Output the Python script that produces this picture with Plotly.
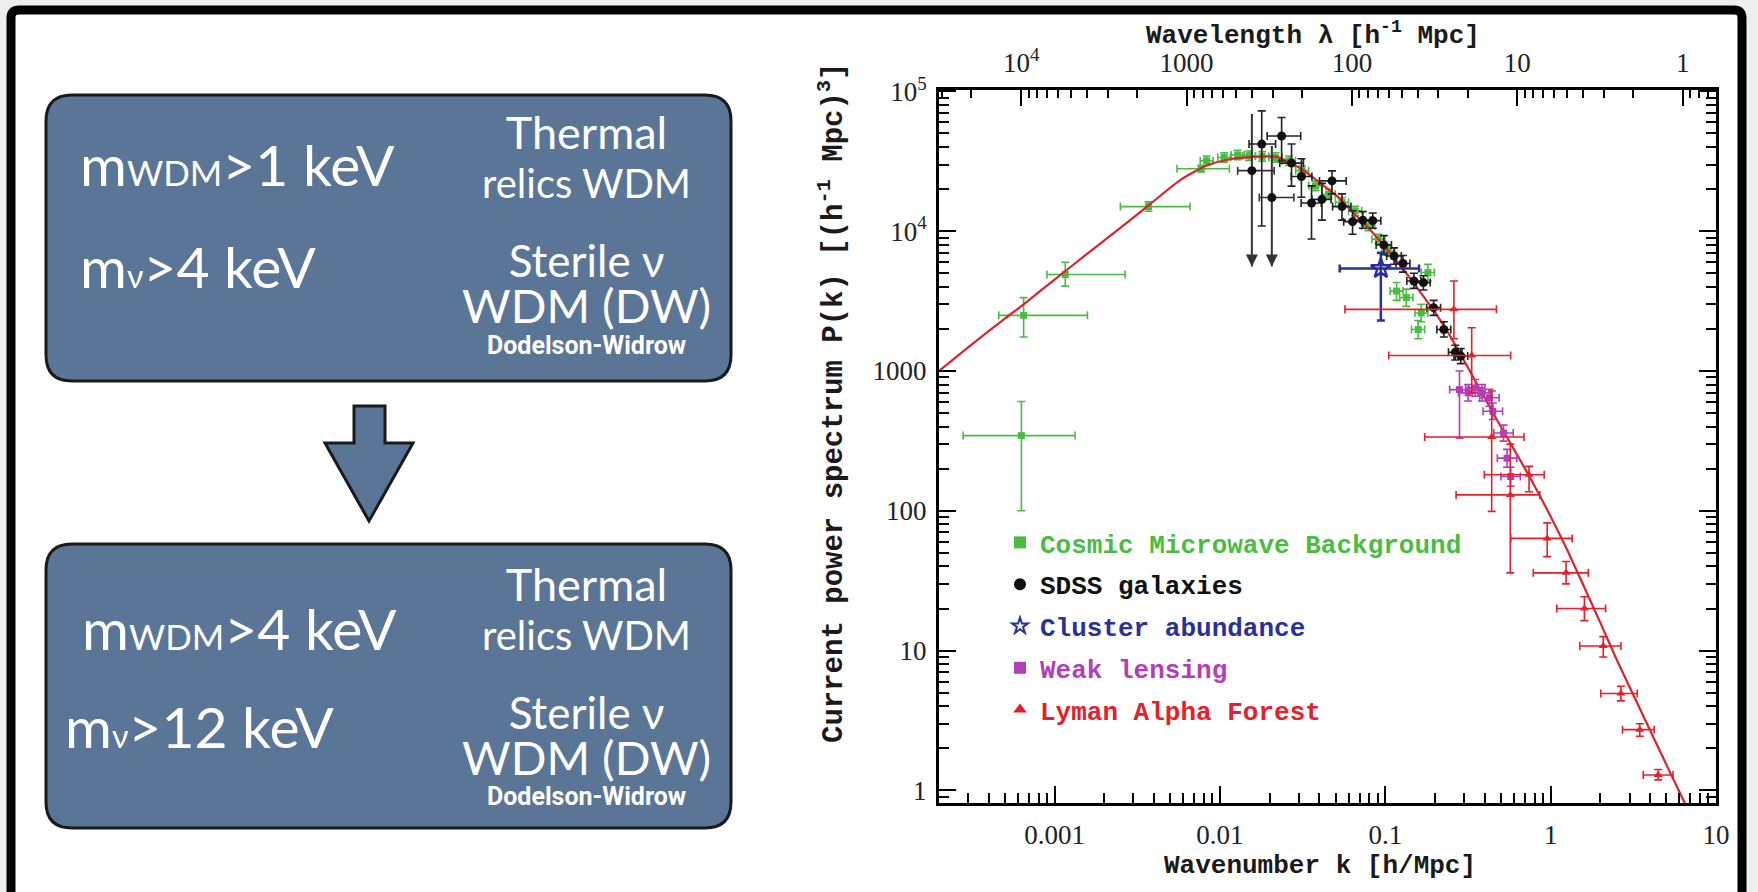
import math
import plotly.graph_objects as go

W, H = 1758, 892

# ---------------- data ----------------
# theory curve (red line)
curve_k = [2.0e-4, 3.16e-4, 5.0e-4, 6.5e-4, 1.0e-3, 1.58e-3, 2.51e-3, 3.8e-3, 5.75e-3, 8.3e-3,
           0.0115, 0.0158, 0.0224, 0.0316, 0.0398, 0.0501, 0.0631, 0.0794, 0.1, 0.126,
           0.158, 0.2, 0.251, 0.316, 0.398, 0.501, 0.631, 0.794, 1.0, 1.26,
           1.58, 2.0, 2.51, 3.16, 3.98, 5.01, 6.65]
curve_P = [1000, 1550, 2370, 3000, 4510, 6920, 10600, 15700, 23200, 29500,
           32700, 34000, 33900, 27500, 22400, 18200, 13800, 10500, 7670, 5500,
           3850, 2630, 1720, 1060, 646, 398, 248, 153, 91.2, 52.5,
           29.2, 15.8, 8.61, 4.84, 2.72, 1.53, 0.76]

# Cosmic Microwave Background (green)
cmb_k = [6.3e-4, 6.5e-4, 1.16e-3, 3.7e-3, 7.7e-3, 0.0083, 0.0106, 0.0128, 0.015, 0.018,
         0.0217, 0.0261, 0.0314, 0.0378, 0.0455, 0.0547, 0.0658, 0.079, 0.0908, 0.104,
         0.117, 0.134, 0.158, 0.181, 0.165]
cmb_k_lo = [2.8e-4, 4.6e-4, 9.0e-4, 2.5e-3, 5.5e-3, 0.0076, 0.0097, 0.0117, 0.0137, 0.0164,
            0.0198, 0.0238, 0.0287, 0.0345, 0.0415, 0.050, 0.060, 0.072, 0.083, 0.095,
            0.107, 0.122, 0.144, 0.165, 0.151]
cmb_k_hi = [1.33e-3, 1.58e-3, 2.67e-3, 6.6e-3, 0.0114, 0.0091, 0.0116, 0.014, 0.0164, 0.0197,
            0.0238, 0.0286, 0.0344, 0.0414, 0.0498, 0.060, 0.072, 0.0865, 0.0995, 0.114,
            0.128, 0.147, 0.173, 0.198, 0.181]
cmb_P = [345, 2500, 4900, 15000, 28000, 31900, 33700, 35100, 34700, 34300,
         33700, 31900, 27100, 21100, 18400, 16100, 14000, 10900, 8770, 7230,
         3730, 3350, 1980, 5060, 2600]
cmb_P_lo = [100, 1750, 4050, 13900, 26500, 29500, 31200, 32500, 32100, 31700,
            31200, 29500, 25000, 19500, 17000, 14900, 12900, 10100, 8100, 6700,
            3200, 2900, 1700, 4400, 2250]
cmb_P_hi = [605, 3350, 6000, 16200, 29600, 34500, 36400, 37900, 37500, 37100,
            36400, 34500, 29300, 22800, 19900, 17400, 15100, 11800, 9500, 7800,
            4300, 3850, 2300, 5800, 3000]

# SDSS galaxies (black)
sdss_k = [0.0179, 0.0236, 0.0271, 0.0311, 0.0358, 0.0414, 0.0476, 0.0547, 0.0634, 0.0731,
          0.084, 0.098, 0.113, 0.128, 0.149, 0.170, 0.196, 0.226, 0.265, 0.286]
sdss_k_lo = [0.0150, 0.0193, 0.023, 0.027, 0.031, 0.036, 0.040, 0.048, 0.056, 0.065,
             0.075, 0.088, 0.102, 0.116, 0.135, 0.154, 0.178, 0.205, 0.241, 0.26]
sdss_k_hi = [0.0217, 0.0308, 0.032, 0.036, 0.041, 0.047, 0.058, 0.062, 0.072, 0.082,
             0.094, 0.109, 0.125, 0.141, 0.164, 0.187, 0.216, 0.249, 0.291, 0.315]
sdss_P = [42000, 48000, 30700, 24600, 15900, 16900, 22900, 15000, 11700, 12000,
          11900, 7980, 6650, 5870, 4400, 4290, 2840, 1980, 1360, 1280]
sdss_P_lo = [10900, 31800, 21000, 17500, 8800, 12000, 18500, 12000, 9500, 10500,
             10500, 6800, 5800, 5100, 3900, 3800, 2500, 1750, 1200, 1130]
sdss_P_hi = [72600, 65000, 42000, 33000, 21100, 22000, 27000, 18500, 14000, 13800,
             13500, 9300, 7600, 6700, 5000, 4800, 3200, 2250, 1530, 1450]
# SDSS upper limits (points with downward arrows)
sdss_lim_k = [0.0156, 0.0206]
sdss_lim_k_lo = [0.0128, 0.0173]
sdss_lim_k_hi = [0.0213, 0.028]
sdss_lim_P = [27100, 17400]
sdss_lim_P_hi = [69000, 40700]
sdss_lim_arrow_P = [5600, 5600]

# Cluster abundance (blue)
clu_k = [0.094]
clu_k_lo = [0.053]
clu_k_hi = [0.16]
clu_P = [5400]
clu_P_lo = [2300]
clu_P_hi = [7000]

# Weak lensing (magenta)
wl_k = [0.281, 0.317, 0.350, 0.385, 0.426, 0.447, 0.519, 0.545, 0.573]
wl_k_lo = [0.245, 0.277, 0.306, 0.336, 0.372, 0.39, 0.453, 0.476, 0.5]
wl_k_hi = [0.322, 0.363, 0.40, 0.44, 0.488, 0.512, 0.594, 0.624, 0.656]
wl_P = [736, 698, 757, 698, 643, 515, 360, 238, 176]
wl_P_lo = [330, 610, 660, 610, 560, 450, 315, 205, 150]
wl_P_hi = [1000, 800, 870, 800, 740, 590, 410, 275, 205]

# Lyman Alpha Forest (red)
ly_k = [0.26, 0.333, 0.44, 0.57, 0.74, 0.953, 1.24, 1.60, 2.08, 2.66, 3.46, 4.47]
ly_k_lo = [0.057, 0.105, 0.173, 0.268, 0.397, 0.574, 0.785, 1.09, 1.50, 2.01, 2.72, 3.63]
ly_k_hi = [0.47, 0.573, 0.69, 0.86, 0.914, 1.35, 1.69, 2.15, 2.66, 3.34, 4.23, 5.50]
ly_P = [2760, 1290, 337, 130, 181, 63.5, 36, 20, 10.8, 4.93, 2.72, 1.29]
ly_P_lo = [1700, 700, 99, 36, 137, 47, 30, 16.4, 9.0, 4.37, 2.44, 1.19]
ly_P_hi = [4400, 2040, 720, 300, 208, 82, 43.4, 24.3, 12.6, 5.56, 3.0, 1.41]

# axis ticks
k_ticks = [1e-3, 1e-2, 0.1, 1, 10]
k_ticktext = ["0.001", "0.01", "0.1", "1", "10"]
P_ticks = [1, 10, 100, 1000, 1e4, 1e5]
P_ticktext = ["1", "10", "100", "1000", "10<sup>4</sup>", "10<sup>5</sup>"]
lam_ticks = [1e4, 1000, 100, 10, 1]
lam_ticktext = ["10<sup>4</sup>", "1000", "100", "10", "1"]
lam_minor = [3e4, 2e4] + [m * 10 ** n for n in (3, 2, 1, 0) for m in (9, 8, 7, 6, 5, 4, 3, 2)] + [0.9, 0.8, 0.7]

legend_names = ["Cosmic Microwave Background", "SDSS galaxies", "Cluster abundance",
                "Weak lensing", "Lyman Alpha Forest"]

# ---------------- styling ----------------
GREEN = "#4cbb44"
BLACK = "#111111"
BLUE = "#2b2f9a"
MAG = "#b23fb8"
RED = "#e4202c"
BOXC = "#5b7596"


def X(x):
    return x / W


def Y(y):
    return 1 - y / H


def errs(v, lo, hi):
    return [h - c for c, h in zip(v, hi)], [c - l for c, l in zip(v, lo)]


def err_dict(v, lo, hi, color, width=4, thick=1.6):
    plus, minus = errs(v, lo, hi)
    return dict(type="data", symmetric=False, array=plus, arrayminus=minus,
                color=color, thickness=thick, width=width)


def colored(name, c):
    return f"<span style='color:{c}'>{name}</span>"


fig = go.Figure()

fig.add_trace(go.Scatter(
    x=cmb_k, y=cmb_P, mode="markers", name=colored(legend_names[0], GREEN),
    marker=dict(symbol="square", size=7, color=GREEN),
    error_x=err_dict(cmb_k, cmb_k_lo, cmb_k_hi, GREEN),
    error_y=err_dict(cmb_P, cmb_P_lo, cmb_P_hi, GREEN),
    legendgroup="a", legendrank=1))

fig.add_trace(go.Scatter(
    x=curve_k, y=curve_P, mode="lines", line=dict(color="#d8242f", width=2.2, shape="spline", smoothing=0.6),
    showlegend=False))

fig.add_trace(go.Scatter(
    x=sdss_lim_k, y=sdss_lim_P, mode="markers", showlegend=False,
    marker=dict(symbol="circle", size=9, color=BLACK),
    error_x=err_dict(sdss_lim_k, sdss_lim_k_lo, sdss_lim_k_hi, "#333333"),
    error_y=err_dict(sdss_lim_P, sdss_lim_arrow_P, sdss_lim_P_hi, "#333333", width=0, thick=2)))
fig.add_trace(go.Scatter(
    x=sdss_lim_k, y=sdss_lim_arrow_P, mode="markers", showlegend=False,
    marker=dict(symbol="arrow-down", size=12, color="#333333")))

fig.add_trace(go.Scatter(
    x=sdss_k, y=sdss_P, mode="markers", name=colored(legend_names[1], BLACK),
    marker=dict(symbol="circle", size=9, color=BLACK),
    error_x=err_dict(sdss_k, sdss_k_lo, sdss_k_hi, "#222222"),
    error_y=err_dict(sdss_P, sdss_P_lo, sdss_P_hi, "#222222"),
    legendgroup="b", legendrank=2))

fig.add_trace(go.Scatter(
    x=clu_k, y=clu_P, mode="markers", name=colored(legend_names[2], BLUE),
    marker=dict(symbol="star-open", size=15, color=BLUE, line=dict(width=2.5, color=BLUE)),
    error_x=err_dict(clu_k, clu_k_lo, clu_k_hi, BLUE, thick=2.5),
    error_y=err_dict(clu_P, clu_P_lo, clu_P_hi, BLUE, thick=2.5),
    legendgroup="c", legendrank=3))

fig.add_trace(go.Scatter(
    x=wl_k, y=wl_P, mode="markers", name=colored(legend_names[3], MAG),
    marker=dict(symbol="square", size=7, color=MAG),
    error_x=err_dict(wl_k, wl_k_lo, wl_k_hi, MAG),
    error_y=err_dict(wl_P, wl_P_lo, wl_P_hi, MAG),
    legendgroup="d", legendrank=4))

fig.add_trace(go.Scatter(
    x=ly_k, y=ly_P, mode="markers", name=colored(legend_names[4], RED),
    marker=dict(symbol="triangle-up", size=8, color=RED),
    error_x=err_dict(ly_k, ly_k_lo, ly_k_hi, RED),
    error_y=err_dict(ly_P, ly_P_lo, ly_P_hi, RED),
    legendgroup="e", legendrank=5))

# invisible trace so the wavelength (top) axis is drawn
fig.add_trace(go.Scatter(x=[ly_k[0]], y=[ly_P[0]], xaxis="x2", yaxis="y", mode="markers",
                         marker=dict(opacity=0), showlegend=False, hoverinfo="skip"))

# ---------------- axes ----------------
x_range = [math.log10(2.0e-4), 1.0]
y_range = [-0.09, 5.01]
x_dom = [X(939), X(1716)]
y_dom = [Y(803), Y(90)]

tickfont = dict(family="Liberation Serif", size=27, color="#222222")
k_minor = [m * 10 ** n for n in (-4, -3, -2, -1, 0) for m in range(2, 10) if 2e-4 <= m * 10 ** n <= 10]
P_minor = [m * 10 ** n for n in (-1, 0, 1, 2, 3, 4) for m in range(2, 10) if 0.8 <= m * 10 ** n <= 1.02e5]

fig.update_layout(
    xaxis=dict(type="log", range=x_range, domain=x_dom, anchor="y", automargin=False,
               showline=True, linewidth=3, linecolor="black", showgrid=False, zeroline=False,
               ticks="inside", ticklen=17, tickwidth=2, tickcolor="black",
               tickvals=k_ticks, ticktext=k_ticktext, tickfont=tickfont, ticklabelstandoff=6,
               minor=dict(tickvals=k_minor, ticks="inside", ticklen=10, tickwidth=1.5,
                          tickcolor="black", showgrid=False)),
    xaxis2=dict(type="log", range=x_range, domain=x_dom, anchor="y", overlaying="x", side="top",
                automargin=False,
                showline=True, linewidth=3, linecolor="black", showgrid=False, zeroline=False,
                ticks="inside", ticklen=16, tickwidth=2, tickcolor="black",
                tickvals=[2 * math.pi / l for l in lam_ticks], ticktext=lam_ticktext,
                tickfont=tickfont, ticklabelstandoff=4,
                minor=dict(tickvals=[2 * math.pi / l for l in lam_minor], ticks="inside",
                           ticklen=8, tickwidth=1.5, tickcolor="black", showgrid=False)),
    yaxis=dict(type="log", range=y_range, domain=y_dom, anchor="x", automargin=False,
               showline=True, linewidth=3, linecolor="black", showgrid=False, zeroline=False,
               mirror="ticks",
               ticks="inside", ticklen=17, tickwidth=2, tickcolor="black",
               tickvals=P_ticks, ticktext=P_ticktext, tickfont=tickfont, ticklabelstandoff=4,
               minor=dict(tickvals=P_minor, ticks="inside", ticklen=10, tickwidth=1.5,
                          tickcolor="black", showgrid=False)),
)

# ---------------- shapes: frame, boxes, arrow ----------------
def rrect(x0, y0, x1, y1, r):
    return (f"M {X(x0 + r)},{Y(y0)} L {X(x1 - r)},{Y(y0)} Q {X(x1)},{Y(y0)} {X(x1)},{Y(y0 + r)} "
            f"L {X(x1)},{Y(y1 - r)} Q {X(x1)},{Y(y1)} {X(x1 - r)},{Y(y1)} "
            f"L {X(x0 + r)},{Y(y1)} Q {X(x0)},{Y(y1)} {X(x0)},{Y(y1 - r)} "
            f"L {X(x0)},{Y(y0 + r)} Q {X(x0)},{Y(y0)} {X(x0 + r)},{Y(y0)} Z")


shapes = []
shapes.append(dict(type="path", xref="paper", yref="paper", path=rrect(11, 10, 1742, 1000, 8),
                   fillcolor="white", line=dict(color="black", width=9), layer="below"))
for (y0, y1) in [(95, 381), (544, 828)]:
    shapes.append(dict(type="path", xref="paper", yref="paper", path=rrect(46, y0, 731, y1, 26),
                       fillcolor=BOXC, line=dict(color="#1a1a1a", width=3), layer="below"))
arrow_pts = [(354, 406), (385, 406), (385, 443), (413, 443), (369, 521), (325, 443), (354, 443)]
shapes.append(dict(type="path", xref="paper", yref="paper",
                   path="M " + " L ".join(f"{X(a)},{Y(b)}" for a, b in arrow_pts) + " Z",
                   fillcolor=BOXC, line=dict(color="#1a1a1a", width=3), layer="below"))

# ---------------- annotations ----------------
ann = []
BOXFONT = "Lato"


def box_text(text, x, y, size, anchor="center", family=BOXFONT):
    ann.append(dict(text=text, x=X(x), y=Y(y), xref="paper", yref="paper", showarrow=False,
                    xanchor=anchor, yanchor="middle", align="center",
                    font=dict(family=family, size=size, color="white")))


SUBW = "<span style='font-size:35px'>WDM</span>"
SUBNU = "<span style='font-size:32px'>ν</span>"
THERMAL = ("<span style='font-size:45px'>Thermal</span><br>"
           "<span style='font-size:40px'>relics WDM</span>")
STERILE = ("<span style='font-size:44px'>Sterile ν</span><br>"
           "<span style='font-size:47px'>WDM (DW)</span>")

box_text(f"m{SUBW}&gt;1 keV", 78, 164, 57, "left")
box_text(f"m{SUBNU}&gt;4 keV", 78, 266, 57, "left")
box_text(THERMAL, 586, 156, 38)
box_text(STERILE, 586, 283, 35)
box_text("<b>Dodelson-Widrow</b>", 586, 345, 25, family="Roboto")

box_text(f"m{SUBW}&gt;4 keV", 80, 628, 57, "left")
box_text(f"m{SUBNU}&gt;12 keV", 63, 726, 57, "left")
box_text(THERMAL, 586, 608, 38)
box_text(STERILE, 586, 735, 35)
box_text("<b>Dodelson-Widrow</b>", 586, 796, 25, family="Roboto")

TITLEFONT = dict(family="Liberation Mono", size=26, color="#1a1a1a", weight="bold")
ann.append(dict(text="Wavelength λ [h<sup>-1</sup> Mpc]", x=X(1313), y=Y(34), xref="paper", yref="paper",
                showarrow=False, xanchor="center", yanchor="middle", font=TITLEFONT))
ann.append(dict(text="Wavenumber k [h/Mpc]", x=X(1320), y=Y(866), xref="paper", yref="paper",
                showarrow=False, xanchor="center", yanchor="middle", font=TITLEFONT))
ann.append(dict(text="Current power spectrum P(k) [(h<sup>-1</sup> Mpc)<sup>3</sup>]", x=X(832), y=Y(403),
                xref="paper", yref="paper", showarrow=False, textangle=-90,
                xanchor="center", yanchor="middle",
                font=dict(family="Liberation Mono", size=29, color="#1a1a1a", weight="bold")))

fig.update_layout(
    width=W, height=H, margin=dict(l=0, r=0, t=0, b=0, autoexpand=False),
    paper_bgcolor="#eeeeee", plot_bgcolor="rgba(0,0,0,0)",
    shapes=shapes, annotations=ann,
    showlegend=True,
    legend=dict(x=X(1000), y=Y(519), xanchor="left", yanchor="top",
                bgcolor="rgba(0,0,0,0)", borderwidth=0, itemsizing="constant",
                font=dict(family="Liberation Mono", size=26, weight="bold"),
                traceorder="grouped", tracegroupgap=5, itemwidth=30),
)

fig.write_html("out.html", config={"displayModeBar": False},
               post_script="document.body.style.margin='0px';document.body.style.padding='0px';")
